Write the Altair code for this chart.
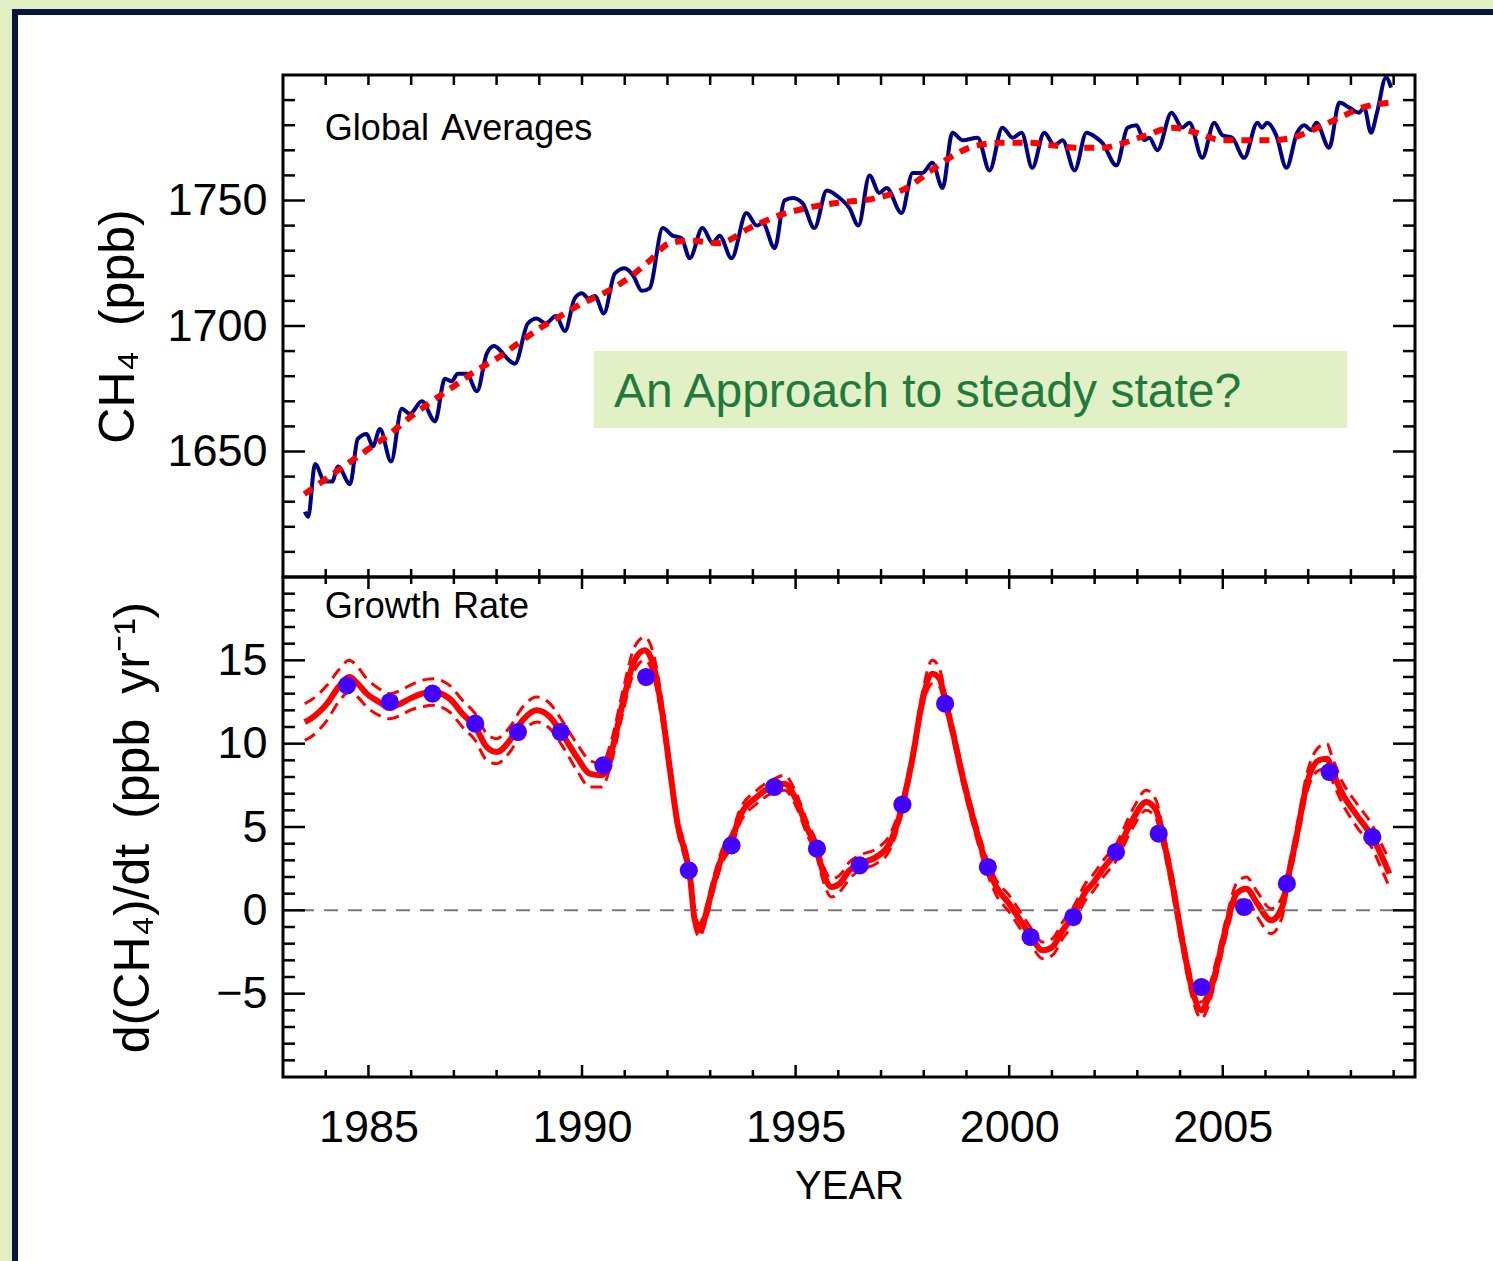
import altair as alt
import pandas as pd

# ---------------- data ----------------
blue_year = [1983.51, 1983.59, 1983.75, 1983.98, 1984.15, 1984.29, 1984.57, 1984.75, 1984.96,
             1985.10, 1985.27, 1985.53, 1985.78, 1985.97, 1986.25, 1986.56, 1986.79, 1986.95,
             1987.09, 1987.30, 1987.54, 1987.77, 1987.94, 1988.10, 1988.20, 1988.43, 1988.73,
             1988.94, 1989.15, 1989.39, 1989.60, 1989.83, 1990.00, 1990.15, 1990.30, 1990.51,
             1990.77, 1991.00, 1991.20, 1991.40, 1991.58, 1991.89, 1992.12, 1992.33, 1992.52,
             1992.82, 1993.06, 1993.22, 1993.50, 1993.85, 1994.09, 1994.23, 1994.51, 1994.74,
             1994.93, 1995.16, 1995.44, 1995.73, 1996.03, 1996.26, 1996.47, 1996.73, 1996.96,
             1997.13, 1997.48, 1997.74, 1997.97, 1998.20, 1998.44, 1998.67, 1998.91, 1999.26,
             1999.54, 1999.84, 2000.08, 2000.29, 2000.54, 2000.82, 2001.06, 2001.25, 2001.53,
             2001.81, 2002.04, 2002.18, 2002.51, 2002.77, 2002.98, 2003.16, 2003.28, 2003.47,
             2003.80, 2004.05, 2004.22, 2004.52, 2004.80, 2004.99, 2005.22, 2005.50, 2005.81,
             2005.92, 2006.04, 2006.25, 2006.49, 2006.74, 2006.91, 2007.07, 2007.19, 2007.49,
             2007.73, 2007.96, 2008.19, 2008.31, 2008.47, 2008.61, 2008.82, 2008.94]
blue_ch4 = [1626, 1624, 1645, 1638, 1638, 1644, 1637, 1655, 1657,
            1652, 1659, 1646, 1667, 1665, 1670, 1662, 1679, 1678,
            1681, 1681, 1674, 1689, 1692, 1690, 1688, 1685, 1701,
            1703, 1701, 1704, 1698, 1711, 1713, 1711, 1712, 1705,
            1721, 1723, 1720, 1714, 1715, 1739, 1736, 1735, 1727,
            1739, 1733, 1736, 1727, 1745, 1740, 1741, 1731, 1750,
            1751, 1749, 1739, 1754, 1751, 1747, 1740, 1760, 1753,
            1755, 1745, 1761, 1761, 1765, 1755, 1777, 1774, 1775,
            1762, 1779, 1775, 1777, 1763, 1777, 1772, 1774, 1762,
            1777, 1775, 1773, 1764, 1779, 1780, 1774, 1775, 1770,
            1785, 1779, 1781, 1767, 1781, 1776, 1775, 1767, 1781,
            1779, 1781, 1776, 1763, 1777, 1780, 1778, 1781, 1771,
            1789, 1787, 1785, 1787, 1777, 1785, 1799, 1795]

trend_year = [1983.5, 1984.0, 1984.5, 1985.0, 1985.5, 1986.0, 1986.4, 1987.0, 1987.5, 1988.0,
              1988.5, 1989.0, 1989.5, 1990.0, 1990.5, 1991.0, 1991.58, 1992.05, 1992.5, 1993.2,
              1993.92, 1994.6, 1995.26, 1995.95, 1996.89, 1997.6, 1998.1, 1998.6, 1999.07,
              1999.77, 2000.47, 2001.0, 2001.64, 2002.18, 2002.7, 2003.21, 2003.82, 2004.38,
              2004.99, 2005.55, 2006.09, 2006.63, 2007.09, 2007.73, 2008.26, 2008.9]
trend_ch4 = [1633, 1639, 1645, 1651, 1657, 1664, 1669, 1676, 1682, 1687,
             1693, 1699, 1704, 1709, 1713, 1718, 1726, 1733, 1734, 1733,
             1739, 1744, 1747, 1749, 1751, 1755, 1761, 1767, 1771,
             1773, 1773, 1772, 1771, 1771, 1773, 1776, 1779, 1777,
             1774, 1774, 1774, 1775, 1778, 1783, 1787, 1789]

rate_year = [1983.51, 1983.65, 1984.03, 1984.30, 1984.55, 1984.75, 1984.96, 1985.25, 1985.50,
             1985.75, 1985.97, 1986.25, 1986.51, 1986.90, 1987.20, 1987.50, 1987.77, 1988.00,
             1988.31, 1988.61, 1988.94, 1989.25, 1989.53, 1989.88, 1990.18, 1990.46, 1990.70,
             1990.95, 1991.23, 1991.47, 1991.66, 1991.87, 1992.05, 1992.25, 1992.40, 1992.52,
             1992.64, 1992.75, 1992.87, 1993.06, 1993.29, 1993.50, 1993.69, 1994.09, 1994.51,
             1994.74, 1995.02, 1995.26, 1995.50, 1995.63, 1995.84, 1996.03, 1996.26, 1996.50,
             1996.89, 1997.20, 1997.50, 1997.74, 1997.97, 1998.20, 1998.37, 1998.51, 1998.67,
             1998.91, 1999.23, 1999.49, 1999.70, 2000.00, 2000.31, 2000.52, 2000.78, 2001.01,
             2001.25, 2001.48, 2001.81, 2001.95, 2002.20, 2002.51, 2002.88, 2003.21, 2003.44,
             2003.58, 2003.82, 2004.05, 2004.29, 2004.50, 2004.64, 2004.85, 2005.08, 2005.32,
             2005.55, 2005.81, 2006.13, 2006.39, 2006.50, 2006.74, 2006.97, 2007.25, 2007.44,
             2007.56, 2007.80, 2008.11, 2008.50, 2008.73, 2008.90]
rate_mid = [11.3, 11.5, 12.4, 13.4, 14.0, 13.6, 13.0, 12.5, 12.2,
            12.4, 12.7, 13.0, 13.1, 12.7, 11.8, 11.0, 9.8, 9.5,
            10.2, 11.4, 12.0, 11.6, 10.6, 9.2, 8.2, 8.1, 9.6,
            12.4, 15.0, 15.6, 14.8, 12.0, 8.6, 5.0, 3.6, 2.2,
            -0.6, -1.2, -0.5, 1.4, 3.3, 4.2, 5.6, 6.8, 7.5,
            7.6, 6.6, 5.0, 3.6, 2.4, 1.4, 1.6, 2.4, 2.8,
            3.2, 4.0, 6.3, 9.2, 12.6, 14.2, 13.9, 12.5, 10.8,
            8.0, 4.8, 2.6, 1.4, 0.4, -0.8, -1.6, -2.4, -2.2,
            -1.2, -0.4, 1.2, 1.6, 2.5, 3.5, 5.4, 6.5, 6.0,
            4.6, 1.6, -1.8, -4.8, -6.0, -5.4, -3.5, -1.0, 1.0,
            1.3, 0.4, -0.6, 0.2, 1.6, 4.6, 7.6, 9.0, 9.1,
            8.4, 7.0, 5.8, 4.4, 3.2, 2.2]
rate_hi = [12.4, 12.6, 13.5, 14.4, 15.0, 14.6, 13.9, 13.3, 13.0,
           13.2, 13.5, 13.8, 13.9, 13.5, 12.6, 11.8, 10.6, 10.3,
           11.0, 12.2, 12.8, 12.4, 11.4, 10.0, 9.0, 8.8, 10.3,
           13.1, 15.8, 16.4, 15.5, 12.6, 9.1, 5.4, 4.0, 2.6,
           -0.2, -0.8, -0.1, 1.8, 3.7, 4.6, 6.0, 7.2, 7.9,
           8.1, 7.0, 5.4, 4.0, 2.8, 1.9, 2.1, 2.9, 3.3,
           3.7, 4.5, 6.7, 9.6, 13.1, 15.0, 14.5, 12.9, 11.2,
           8.4, 5.2, 3.0, 1.8, 0.9, -0.3, -1.1, -1.9, -1.7,
           -0.7, 0.1, 1.7, 2.1, 3.0, 4.0, 6.0, 7.2, 6.6,
           5.1, 2.1, -1.3, -4.3, -5.5, -4.9, -3.0, -0.5, 1.6,
           2.0, 1.1, 0.1, 0.8, 2.1, 5.1, 8.2, 9.8, 10.0,
           9.2, 7.7, 6.5, 5.1, 3.9, 3.0]
rate_lo = [10.2, 10.4, 11.4, 12.5, 13.1, 12.8, 12.2, 11.7, 11.5,
           11.7, 12.0, 12.2, 12.3, 11.9, 11.0, 10.2, 9.0, 8.8,
           9.5, 10.7, 11.3, 10.9, 9.9, 8.4, 7.4, 7.4, 9.0,
           11.8, 14.4, 15.0, 14.2, 11.4, 8.1, 4.6, 3.2, 1.8,
           -1.0, -1.6, -0.9, 1.0, 2.9, 3.8, 5.2, 6.4, 7.1,
           7.2, 6.2, 4.6, 3.2, 1.9, 0.8, 1.1, 1.9, 2.4,
           2.8, 3.6, 5.9, 8.8, 12.2, 13.6, 13.4, 12.1, 10.4,
           7.6, 4.4, 2.2, 0.9, -0.1, -1.3, -2.1, -2.9, -2.7,
           -1.7, -0.9, 0.7, 1.1, 2.0, 3.0, 4.9, 6.0, 5.5,
           4.1, 1.1, -2.3, -5.3, -6.5, -5.9, -4.0, -1.5, 0.5,
           0.7, -0.4, -1.4, -0.4, 1.1, 4.1, 7.1, 8.4, 8.5,
           7.8, 6.4, 5.1, 3.7, 2.4, 1.4]

dot_year = [1984.5, 1985.5, 1986.5, 1987.5, 1988.5, 1989.5, 1990.5, 1991.5, 1992.5, 1993.5,
            1994.5, 1995.5, 1996.5, 1997.5, 1998.5, 1999.5, 2000.5, 2001.5, 2002.5, 2003.5,
            2004.5, 2005.5, 2006.5, 2007.5, 2008.5]
dot_rate = [13.5, 12.5, 13.0, 11.2, 10.7, 10.7, 8.7, 14.0, 2.4, 3.9,
            7.4, 3.7, 2.7, 6.35, 12.4, 2.6, -1.6, -0.4, 3.5, 4.6,
            -4.6, 0.2, 1.6, 8.3, 4.4]

x_major = [1985, 1990, 1995, 2000, 2005]
x_minor = [y for y in range(1984, 2010) if y not in x_major]
top_y_major = [1650, 1700, 1750]
top_y_minor = [v for v in range(1610, 1800, 10) if v not in top_y_major]
bot_y_major = [-5, 0, 5, 10, 15]
bot_y_minor = [v for v in range(-9, 20) if v not in bot_y_major]
zero_level = [0]
zero_extent = [1983.4, 2009.25]

SP = "\u2002"   # wide space (SVG collapses double spaces)
SP3 = "\u2004"  # three-per-em space
top_title = f"CH₄{SP}(ppb)"
bot_title = f"d(CH₄)/dt{SP}(ppb{SP}yr⁻¹)"
x_title = "YEAR"
label_top = f"Global{SP3}Averages"
label_bot = f"Growth{SP3}Rate"
note_text = "An Approach to steady state?"
note_box_x = [1990.28, 2007.91]
note_box_y = [1659.4, 1690.0]
note_pos = [1990.75, 1667.7]
label_top_pos = [1983.98, 1774.1]
label_bot_pos = [1983.98, 17.54]

# ---------------- styling ----------------
W, H1, H2 = 1132, 502, 500
XD = [1983, 2009.5]
YD1 = [1600, 1800]
YD2 = [-10, 20]
GREEN_BG = "#e2f0c5"
NAVY = "#0b1447"
FONT = "Liberation Sans"

xs = alt.Scale(domain=XD, nice=False, zero=False)
ys1 = alt.Scale(domain=YD1, nice=False, zero=False)
ys2 = alt.Scale(domain=YD2, nice=False, zero=False)

yaxis_common = dict(ticks=False, domain=False, grid=False, labelFontSize=45,
                    labelPadding=16, labelFont=FONT, labelColor="black", titleFont=FONT,
                    titleFontSize=50, titleFontWeight="normal", titleColor="black", zindex=2)
AX_Y_TOP = alt.Axis(values=top_y_major, title=top_title, format="d", minExtent=116,
                    maxExtent=116, titlePadding=24, **yaxis_common)
AX_Y_BOT = alt.Axis(values=bot_y_major, title=bot_title, minExtent=100, maxExtent=100,
                    titlePadding=25, **yaxis_common)
AX_X_BOT = alt.Axis(values=x_major, format="d", title=x_title, ticks=False, domain=False,
                    grid=False, labelFontSize=45, labelFont=FONT, labelColor="black",
                    labelPadding=28, titleFont=FONT, titleFontSize=40,
                    titleFontWeight="normal", titleColor="black", titlePadding=16, zindex=2)


def X(field, panel):
    return alt.X(field, scale=xs, axis=(None if panel == "top" else AX_X_BOT))


def Y(field, panel):
    if panel == "top":
        return alt.Y(field, scale=ys1, axis=AX_Y_TOP)
    return alt.Y(field, scale=ys2, axis=AX_Y_BOT)


one = pd.DataFrame({"k": [0]})


def xticks(vals, length, edge, H, panel):
    df = pd.DataFrame({"x": vals})
    if edge == "bottom":
        y, y2 = H, H - length
    else:
        y, y2 = 0, length
    return alt.Chart(df).mark_rule(color="black", strokeWidth=2.5).encode(
        x=X("x:Q", panel), y=alt.value(y), y2=alt.value(y2))


def yticks(vals, length, edge, panel):
    df = pd.DataFrame({"y": vals})
    if edge == "left":
        x, x2 = 0, length
    else:
        x, x2 = W, W - length
    return alt.Chart(df).mark_rule(color="black", strokeWidth=2.5).encode(
        y=Y("y:Q", panel), x=alt.value(x), x2=alt.value(x2))


def frame(yd, panel):
    df = pd.DataFrame({"x": [XD[0]], "x2": [XD[1]], "y": [yd[0]], "y2": [yd[1]]})
    return alt.Chart(df).mark_rect(filled=False, color="black", strokeWidth=3).encode(
        x=X("x:Q", panel), x2="x2:Q", y=Y("y:Q", panel), y2="y2:Q")


def text_layer(df, size, color, panel, font=FONT):
    return alt.Chart(df).mark_text(align="left", baseline="alphabetic", fontSize=size,
                                   font=font, color=color).encode(
        x=X("x:Q", panel), y=Y("y:Q", panel), text="t:N")


def slide_rect(color, x0, x1, y0, y1):
    # slide decoration (white page, navy border) in pixels relative to the top plot
    return alt.Chart(one).mark_rect(color=color).encode(
        x=alt.value(x0), x2=alt.value(x1), y=alt.value(y0), y2=alt.value(y1))


# ---------------- top panel ----------------
page_white = slide_rect("white", -265, 1210, -60, 1186)
border_top = slide_rect(NAVY, -271, 1210, -66, -60)
border_left = slide_rect(NAVY, -271, -265, -66, 1186)

df_blue = pd.DataFrame({"x": blue_year, "y": blue_ch4})
df_trend = pd.DataFrame({"x": trend_year, "y": trend_ch4})

blue_line = alt.Chart(df_blue).mark_line(color="#000080", strokeWidth=4,
                                         interpolate="monotone").encode(
    x=X("x:Q", "top"), y=Y("y:Q", "top"))
trend_line = alt.Chart(df_trend).mark_line(color="#ff0000", strokeWidth=6, strokeDash=[10, 8],
                                           interpolate="monotone").encode(
    x=X("x:Q", "top"), y=Y("y:Q", "top"))

df_box = pd.DataFrame({"x": [note_box_x[0]], "x2": [note_box_x[1]],
                       "y": [note_box_y[0]], "y2": [note_box_y[1]]})
note_box = alt.Chart(df_box).mark_rect(color=GREEN_BG).encode(
    x=X("x:Q", "top"), x2="x2:Q", y=Y("y:Q", "top"), y2="y2:Q")
note = text_layer(pd.DataFrame({"x": [note_pos[0]], "y": [note_pos[1]], "t": [note_text]}),
                  48, "#1f7a3c", "top")
lab_top = text_layer(pd.DataFrame({"x": [label_top_pos[0]], "y": [label_top_pos[1]],
                                   "t": [label_top]}), 36, "black", "top")

top = alt.layer(
    page_white, border_top, border_left,
    blue_line, trend_line, note_box, note, lab_top,
    yticks(top_y_major, 22, "left", "top"), yticks(top_y_minor, 12, "left", "top"),
    yticks(top_y_major, 22, "right", "top"), yticks(top_y_minor, 12, "right", "top"),
    xticks(x_major + x_minor, 10, "top", H1, "top"), xticks(x_major + x_minor, 8, "bottom", H1, "top"),
    frame(YD1, "top"),
).properties(width=W, height=H1)

# ---------------- bottom panel ----------------
df_rate = pd.DataFrame({"x": rate_year, "y": rate_mid})
df_hi = pd.DataFrame({"x": rate_year, "y": rate_hi})
df_lo = pd.DataFrame({"x": rate_year, "y": rate_lo})
df_dots = pd.DataFrame({"x": dot_year, "y": dot_rate})
df_zero = pd.DataFrame({"x": [zero_extent[0]], "x2": [zero_extent[1]], "y": zero_level})

rate_line = alt.Chart(df_rate).mark_line(color="#ff0000", strokeWidth=6,
                                         interpolate="monotone").encode(
    x=X("x:Q", "bot"), y=Y("y:Q", "bot"))


def bound(df):
    return alt.Chart(df).mark_line(color="#ff0000", strokeWidth=3, strokeDash=[12, 7],
                                   interpolate="monotone").encode(
        x=X("x:Q", "bot"), y=Y("y:Q", "bot"))


zero_line = alt.Chart(df_zero).mark_rule(color="#777777", strokeWidth=2,
                                         strokeDash=[14, 10]).encode(
    x=X("x:Q", "bot"), x2="x2:Q", y=Y("y:Q", "bot"))
dots = alt.Chart(df_dots).mark_circle(size=330, color="#4400ff", opacity=1).encode(
    x=X("x:Q", "bot"), y=Y("y:Q", "bot"))
lab_bot = text_layer(pd.DataFrame({"x": [label_bot_pos[0]], "y": [label_bot_pos[1]],
                                   "t": [label_bot]}), 36, "black", "bot")

bottom = alt.layer(
    rate_line, zero_line, bound(df_hi), bound(df_lo), dots, lab_bot,
    yticks(bot_y_major, 22, "left", "bot"), yticks(bot_y_minor, 12, "left", "bot"),
    yticks(bot_y_major, 22, "right", "bot"), yticks(bot_y_minor, 12, "right", "bot"),
    xticks(x_major, 12, "top", H2, "bot"), xticks(x_minor, 7, "top", H2, "bot"),
    xticks(x_major, 12, "bottom", H2, "bot"), xticks(x_minor, 7, "bottom", H2, "bot"),
    frame(YD2, "bot"),
).properties(width=W, height=H2)

chart = alt.vconcat(top, bottom, spacing=0, bounds="flush").properties(
    background=GREEN_BG,
    padding={"left": 12, "top": 9, "right": 0, "bottom": 0},
).configure_view(stroke=None)

chart.save("out.html", embed_options={"renderer": "svg", "actions": False})
